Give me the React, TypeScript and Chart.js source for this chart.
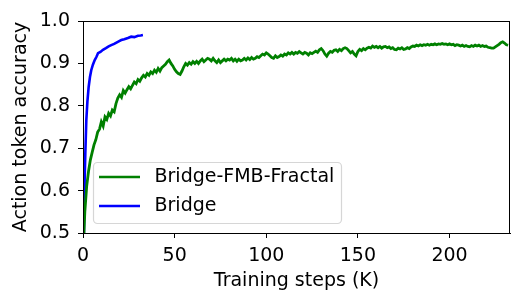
import React, { useEffect, useRef } from "react";
import { Chart, registerables } from "chart.js";

Chart.register(...registerables);

const X_TICKS = [0, 50, 100, 150, 200];
const Y_TICKS = [0.5, 0.6, 0.7, 0.8, 0.9, 1.0];
const X_MAX = 233;

const SERIES_NAMES = ["Bridge-FMB-Fractal", "Bridge"];

// Bridge (blue): steps (K) and accuracy
const BRIDGE_STEPS = [0.5, 0.7, 0.9, 1.27, 1.82, 2.4, 3.1, 3.8, 4.5, 5.4, 6.4, 7.3, 8.2, 9.5, 10.9, 12.5, 14, 15.4, 17, 19, 20.9, 22.5, 24.5, 26.3, 28, 30, 31.5, 32.7];
const BRIDGE_ACC = [0.5, 0.57, 0.625, 0.688, 0.767, 0.81, 0.845, 0.868, 0.884, 0.897, 0.908, 0.915, 0.924, 0.927, 0.932, 0.936, 0.94, 0.943, 0.946, 0.951, 0.955, 0.957, 0.96, 0.963, 0.962, 0.965, 0.966, 0.967];

// Bridge-FMB-Fractal (green): first point at 0.5K, then one per 1K step from 1K to 232K
const FRACTAL_START_STEP = 0.5;
const FRACTAL_START_ACC = 0.5;
const FRACTAL_ACC = [
  0.55, 0.61, 0.645, 0.672, 0.69, 0.708, 0.72, 0.738, 0.745, 0.762,
  0.752, 0.774, 0.768, 0.782, 0.776, 0.79, 0.786, 0.805, 0.818, 0.826,
  0.82, 0.836, 0.83, 0.838, 0.845, 0.84, 0.848, 0.856, 0.852, 0.862,
  0.858, 0.866, 0.872, 0.868, 0.876, 0.872, 0.88, 0.876, 0.884, 0.879,
  0.888, 0.882, 0.89, 0.894, 0.898, 0.904, 0.908, 0.9, 0.894, 0.886,
  0.88, 0.876, 0.874, 0.882, 0.892, 0.9, 0.896, 0.902, 0.898, 0.904,
  0.9, 0.905, 0.9, 0.906, 0.91, 0.904, 0.908, 0.912, 0.91, 0.906,
  0.912, 0.906, 0.902, 0.908, 0.902, 0.906, 0.91, 0.906, 0.91, 0.908,
  0.912, 0.906, 0.91, 0.905, 0.91, 0.906, 0.908, 0.912, 0.908, 0.913,
  0.909, 0.914, 0.91, 0.912, 0.916, 0.914, 0.918, 0.922, 0.92, 0.925,
  0.922, 0.918, 0.914, 0.912, 0.918, 0.914, 0.916, 0.92, 0.917, 0.922,
  0.92, 0.925, 0.922, 0.926, 0.922, 0.926, 0.924, 0.928, 0.925, 0.922,
  0.926, 0.924, 0.92, 0.925, 0.923, 0.926, 0.929, 0.926, 0.932, 0.935,
  0.93, 0.922, 0.917, 0.924, 0.928, 0.926, 0.931, 0.932, 0.928, 0.933,
  0.93, 0.935, 0.937, 0.935, 0.93, 0.925, 0.928, 0.922, 0.918, 0.928,
  0.933, 0.93, 0.935, 0.932, 0.936, 0.938, 0.936, 0.941, 0.938, 0.94,
  0.937, 0.94, 0.936, 0.939, 0.94, 0.937, 0.939, 0.935, 0.937, 0.933,
  0.932, 0.936, 0.934, 0.937, 0.933, 0.934, 0.937, 0.935, 0.939, 0.941,
  0.94, 0.943, 0.941, 0.944, 0.942, 0.944, 0.943, 0.945, 0.943, 0.945,
  0.944, 0.946, 0.944, 0.946, 0.945, 0.947, 0.945, 0.946, 0.944, 0.946,
  0.944, 0.945, 0.942, 0.944, 0.943, 0.941, 0.943, 0.94, 0.942, 0.94,
  0.939, 0.942, 0.94, 0.943, 0.941, 0.943, 0.94, 0.942, 0.94, 0.941,
  0.938, 0.937, 0.936, 0.936, 0.939, 0.942, 0.945, 0.949, 0.951, 0.948,
  0.944, 0.943,
];

const GREEN = "#008000";
const BLUE = "#0000ff";
const FONT = "'DejaVu Sans', sans-serif";
const FS = 19;

const frameAndLegend = {
  id: "frameAndLegend",
  afterDraw(chart: any) {
    const { ctx, chartArea } = chart;
    ctx.save();
    // axes frame
    ctx.strokeStyle = "#000";
    ctx.lineWidth = 1;
    ctx.strokeRect(
      Math.round(chartArea.left) + 0.5,
      Math.round(chartArea.top) + 0.5,
      Math.round(chartArea.right - chartArea.left) - 1,
      Math.round(chartArea.bottom - chartArea.top)
    );
    // legend
    const lx = 93.5, ly = 162.5, lw = 248, lh = 61;
    ctx.beginPath();
    if (ctx.roundRect) ctx.roundRect(lx, ly, lw, lh, 4);
    else ctx.rect(lx, ly, lw, lh);
    ctx.fillStyle = "rgba(255,255,255,0.8)";
    ctx.fill();
    ctx.strokeStyle = "rgba(204,204,204,0.8)";
    ctx.lineWidth = 1.2;
    ctx.stroke();
    const rows = [
      { color: GREEN, label: SERIES_NAMES[0], y: 177 },
      { color: BLUE, label: SERIES_NAMES[1], y: 206 },
    ];
    ctx.font = `${FS}px ${FONT}`;
    ctx.textBaseline = "middle";
    ctx.textAlign = "left";
    for (const r of rows) {
      ctx.beginPath();
      ctx.strokeStyle = r.color;
      ctx.lineWidth = 2.4;
      ctx.moveTo(99, r.y);
      ctx.lineTo(140, r.y);
      ctx.stroke();
      ctx.fillStyle = "#000";
      ctx.fillText(r.label, 154.5, r.y + 0.5);
    }
    ctx.restore();
  },
};

export default function App() {
  const ref = useRef<HTMLCanvasElement>(null);
  useEffect(() => {
    const fractal = [{ x: FRACTAL_START_STEP, y: FRACTAL_START_ACC }].concat(
      FRACTAL_ACC.map((v, i) => ({ x: i + 1, y: v }))
    );
    const bridge = BRIDGE_STEPS.map((s, i) => ({ x: s, y: BRIDGE_ACC[i] }));
    const chart = new Chart(ref.current!, {
      type: "line",
      data: {
        datasets: [
          {
            label: SERIES_NAMES[0],
            data: fractal,
            borderColor: GREEN,
            borderWidth: 2.8,
            pointRadius: 0,
            tension: 0,
          },
          {
            label: SERIES_NAMES[1],
            data: bridge,
            borderColor: BLUE,
            borderWidth: 2.6,
            pointRadius: 0,
            tension: 0,
          },
        ],
      },
      options: {
        responsive: false,
        animation: false,
        devicePixelRatio: 1,
        layout: { padding: { top: 21, right: 14, left: 0, bottom: 0 } },
        plugins: { legend: { display: false }, tooltip: { enabled: false } },
        scales: {
          x: {
            type: "linear",
            min: 0,
            max: X_MAX,
            afterBuildTicks: (s: any) => {
              s.ticks = X_TICKS.map((v) => ({ value: v }));
            },
            afterFit: (s: any) => {
              s.height = 72;
            },
            grid: { drawOnChartArea: false, drawTicks: true, tickLength: 5, color: "#000", lineWidth: 1 },
            border: { display: true, color: "#000", width: 1 },
            ticks: {
              color: "#000",
              font: { family: FONT, size: FS },
              padding: 7,
              maxRotation: 0,
              autoSkip: false,
              callback: (v: any) => String(v),
            },
            title: {
              display: true,
              text: "Training steps (K)",
              color: "#000",
              font: { family: FONT, size: FS },
              padding: { top: 0, bottom: 13 },
            },
          },
          y: {
            type: "linear",
            min: 0.5,
            max: 1.0,
            afterBuildTicks: (s: any) => {
              s.ticks = Y_TICKS.map((v) => ({ value: v }));
            },
            afterFit: (s: any) => {
              s.width = 83;
            },
            grid: { drawOnChartArea: false, drawTicks: true, tickLength: 5, color: "#000", lineWidth: 1 },
            border: { display: true, color: "#000", width: 1 },
            ticks: {
              color: "#000",
              font: { family: FONT, size: FS },
              padding: 8,
              autoSkip: false,
              callback: (v: any) => Number(v).toFixed(1),
            },
            title: {
              display: true,
              text: "Action token accuracy",
              color: "#000",
              font: { family: FONT, size: FS },
              padding: { top: 10, bottom: 0 },
            },
          },
        },
      },
      plugins: [frameAndLegend],
    } as any);
    return () => chart.destroy();
  }, []);
  return (
    <div style={{ position: "fixed", left: 0, top: 0, width: 524, height: 305, background: "#fff" }}>
      <canvas ref={ref} width={524} height={305} style={{ width: 524, height: 305 }} />
    </div>
  );
}
